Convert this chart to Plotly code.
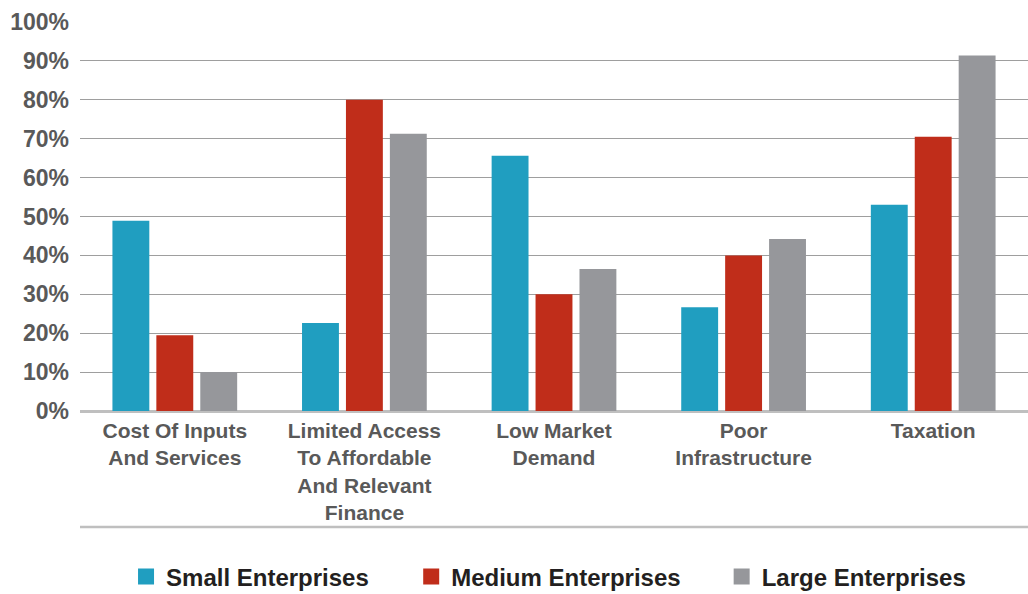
import plotly.graph_objects as go

# Obstacles reported by enterprise size (share of respondents, %)
categories = [
    "Cost Of Inputs<br>And Services",
    "Limited Access<br>To Affordable<br>And Relevant<br>Finance",
    "Low Market<br>Demand",
    "Poor<br>Infrastructure",
    "Taxation",
]
small = [48.9, 22.6, 65.6, 26.7, 53.0]
medium = [19.5, 80.0, 30.0, 40.0, 70.5]
large = [10.0, 71.3, 36.5, 44.2, 91.4]

series_names = ["Small Enterprises", "Medium Enterprises", "Large Enterprises"]
series_values = [small, medium, large]
colors = ["#209EC0", "#C02D1A", "#96979B"]
y_ticks = [0, 10, 20, 30, 40, 50, 60, 70, 80, 90, 100]
y_tick_text = [f"{v}%" for v in y_ticks]

label_font = dict(family="Liberation Sans, Arial, sans-serif", color="#595959", weight="bold")

fig = go.Figure()
for name, vals, col in zip(series_names, series_values, colors):
    fig.add_trace(go.Bar(
        x=categories, y=vals, name=name,
        marker=dict(color=col, line=dict(width=0)),
        showlegend=False,
    ))

# Legend entries: one square swatch per series, each in its own legend box
legend_ids = ["legend", "legend2", "legend3"]
legend_x = [0.1226, 0.400, 0.702]
for name, col, lid in zip(series_names, colors, legend_ids):
    fig.add_trace(go.Scatter(
        x=[None], y=[None], mode="markers", name=name,
        marker=dict(symbol="square", size=16, color=col),
        legend=lid, showlegend=True,
    ))

legend_common = dict(
    orientation="h", xref="container", yref="container",
    xanchor="left", yanchor="middle", y=1 - 577 / 594,
    font=dict(family="Liberation Sans, Arial, sans-serif", size=24, color="#231F20", weight="bold"),
    bgcolor="rgba(0,0,0,0)", itemclick=False, itemdoubleclick=False,
)

fig.update_layout(
    width=1028, height=594,
    margin=dict(l=80, r=0, t=22, b=183),
    paper_bgcolor="white", plot_bgcolor="white",
    barmode="group", bargap=0.305, bargroupgap=0.16,
    legend=dict(x=legend_x[0], **legend_common),
    legend2=dict(x=legend_x[1], **legend_common),
    legend3=dict(x=legend_x[2], **legend_common),
    xaxis=dict(
        showgrid=False, zeroline=False, showline=False, ticks="",
        tickfont=dict(size=21, **label_font),
        ticklabelstandoff=5,
    ),
    yaxis=dict(
        range=[0, 100], tickvals=y_ticks, ticktext=y_tick_text,
        showgrid=True, gridcolor="#9E9E9E", gridwidth=1.4,
        zeroline=True, zerolinecolor="#BFBFBF", zerolinewidth=2.5,
        showline=False, ticks="",
        tickfont=dict(size=23, **label_font),
        ticklabelstandoff=10,
    ),
    shapes=[
        # rule beneath the category labels
        dict(type="line", xref="paper", yref="paper", x0=0, x1=1,
             y0=-(527 - 411) / 389, y1=-(527 - 411) / 389,
             line=dict(color="#BFBFBF", width=2.5)),
    ],
)

fig.write_html("out.html")
